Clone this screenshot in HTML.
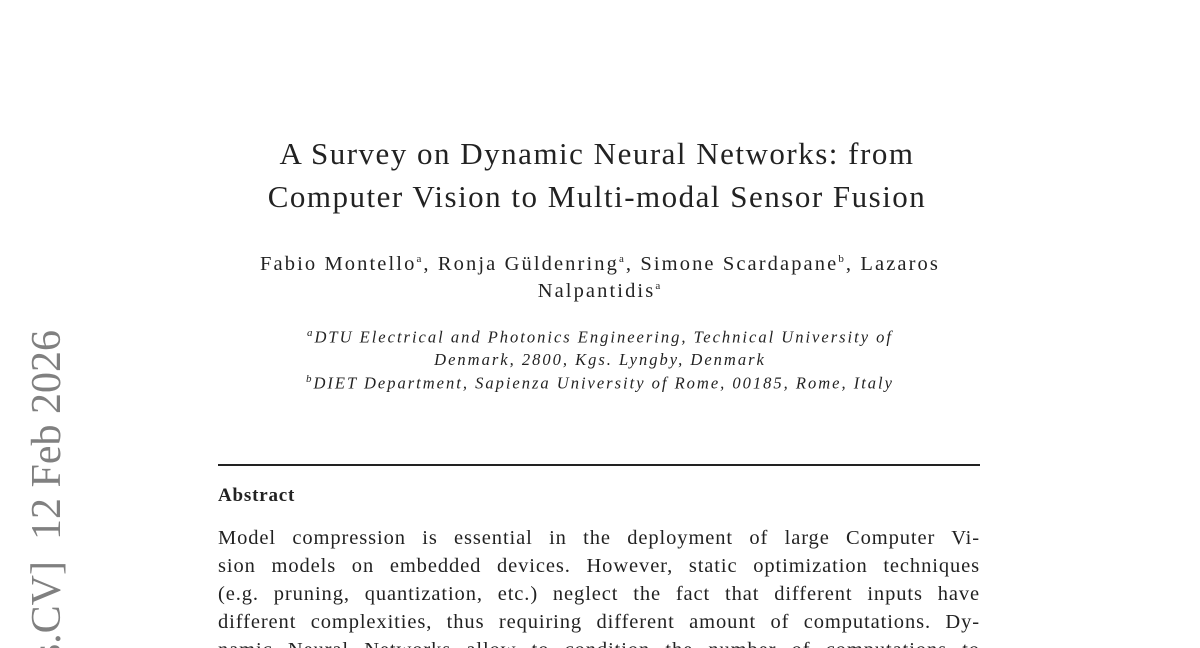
<!DOCTYPE html>
<html style="margin:0;width:1200px;height:648px;overflow:hidden"><head><meta charset="utf-8"><style>
body{margin:0;width:1200px;height:648px;overflow:hidden;background:#fff;font-family:"Liberation Serif",serif;color:#222;position:relative}
.c{position:absolute;left:0;width:1200px;text-align:center;white-space:nowrap}
.t{font-size:31px;letter-spacing:1.5px;left:-3px}
.a{font-size:20.5px;letter-spacing:2.1px}
.f{font-size:16.5px;font-style:italic;letter-spacing:2px}
.j{position:absolute;left:218px;width:762px;font-size:20.5px;letter-spacing:0.9px;text-align:justify;text-align-last:justify;white-space:nowrap;line-height:28px}
.v{position:absolute;left:26px;top:330px;transform-origin:0 0;transform:rotate(-90deg) translateX(-100%);font-size:42px;color:#808080;white-space:pre;line-height:1}
sup{font-size:11px}
</style></head><body>
<div class="c t" style="top:136px">A Survey on Dynamic Neural Networks: from</div>
<div class="c t" style="top:179px">Computer Vision to Multi-modal Sensor Fusion</div>
<div class="c a" style="top:253px">Fabio Montello<sup>a</sup>, Ronja Güldenring<sup>a</sup>, Simone Scardapane<sup>b</sup>, Lazaros</div>
<div class="c a" style="top:280px">Nalpantidis<sup>a</sup></div>
<div class="c f" style="top:327px"><sup>a</sup>DTU Electrical and Photonics Engineering, Technical University of</div>
<div class="c f" style="top:350px">Denmark, 2800, Kgs. Lyngby, Denmark</div>
<div class="c f" style="top:373px"><sup>b</sup>DIET Department, Sapienza University of Rome, 00185, Rome, Italy</div>
<div style="position:absolute;left:218px;top:464px;width:762px;height:1.5px;background:#222"></div>
<div style="position:absolute;left:218px;top:485px;font-size:19px;font-weight:bold;letter-spacing:0.8px">Abstract</div>
<div class="j" style="top:524px">Model compression is essential in the deployment of large Computer Vi-</div>
<div class="j" style="top:552px">sion models on embedded devices. However, static optimization techniques</div>
<div class="j" style="top:580px">(e.g. pruning, quantization, etc.) neglect the fact that different inputs have</div>
<div class="j" style="top:608px">different complexities, thus requiring different amount of computations. Dy-</div>
<div class="j" style="top:636px;height:12px;overflow:hidden">namic Neural Networks allow to condition the number of computations to</div>
<div class="v">arXiv:2501.07451v2 [cs.CV]  12 Feb 2026</div>
</body></html>
